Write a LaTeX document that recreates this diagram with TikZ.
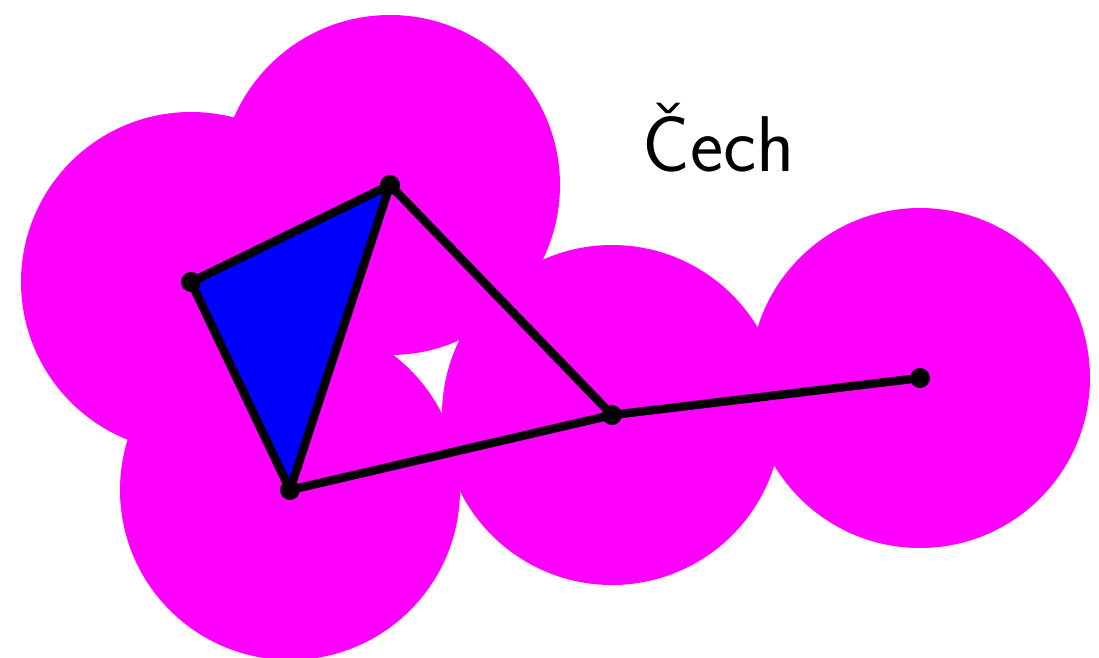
\documentclass[tikz,border=0pt]{standalone}
\usepackage{xcolor}
\usepackage{tikz}
\definecolor{ballpink}{HTML}{FF00FF}
\definecolor{simplexblue}{HTML}{0000FF}

\begin{document}
\begin{tikzpicture}[
  vertex/.style={circle, fill=black, inner sep=0pt, minimum size=0.2cm},
  ball/.style={fill=ballpink},
  edge/.style={draw=black, line width=0.085cm, line cap=round}
]
\useasboundingbox (0,0) rectangle (10.99,6.57);
% points
\node[vertex] (a) at (1.91,3.75) {};
\node[vertex] (b) at (3.90,4.72) {};
\node[vertex] (c) at (2.90,1.67) {};
\node[vertex] (d) at (6.12,2.42) {};
\node[vertex] (e) at (9.20,2.79) {};
% balls of radius 1.7
\foreach \p in {a,b,c,d,e}
  \fill[ball] (\p.center) circle (1.7);
% filled 2-simplex
\fill[simplexblue] (a.center) -- (b.center) -- (c.center) -- cycle;
\foreach \u/\v in {a/b,b/c,c/a,b/d,c/d,d/e}
  \draw[edge] (\u.center) -- (\v.center);
\foreach \p in {a,b,c,d,e}
  \fill (\p) circle (0.1);
\node[anchor=base west, inner sep=0pt, font=\fontsize{22.5}{27}\selectfont\sffamily] (label) at (6.42,4.86) {Čech};
\end{tikzpicture}
\end{document}
